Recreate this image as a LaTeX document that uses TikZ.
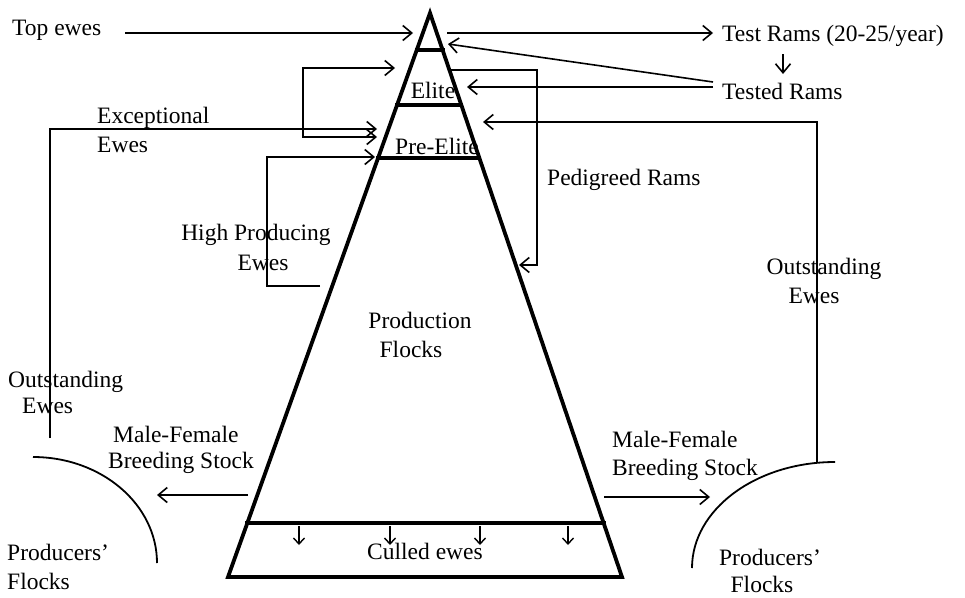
\documentclass[tikz,border=0pt]{standalone}
\usepackage{fontspec}
\setmainfont{Liberation Serif}
\usetikzlibrary{arrows.meta,calc}
\tikzset{
  lbl/.style={inner sep=0pt, anchor=base west, font=\fontsize{23.5}{28}\selectfont},
  lblc/.style={lbl, anchor=base},
  tip/.style={Straight Barb[length=9pt,width=15pt,line width=1.6pt]},
  link/.style={line width=1.6pt},
  flow/.style={link, -{Straight Barb[length=9pt,width=15pt,line width=1.6pt]}},
  twoflow/.style={link, {Straight Barb[length=9pt,width=15pt,line width=1.6pt]}-{Straight Barb[length=9pt,width=15pt,line width=1.6pt]}},
  cull/.style={line width=1.4pt, -{Straight Barb[length=6pt,width=11pt,line width=1.4pt]}},
  pyr/.style={line width=3.8pt},
}
\begin{document}
\begin{tikzpicture}[x=1pt,y=-1pt]
  \useasboundingbox (0,0) rectangle (965,597);
  % pyramid
  \coordinate (apex) at (430,13);
  \coordinate (bl) at (228,577);
  \coordinate (br) at (622,577);
  \draw[pyr] (bl) -- (apex) -- (br) -- cycle;
  \foreach \t/\n in {0.0656/a, 0.1631/b, 0.2571/c, 0.9043/d} {
    \coordinate (L\n) at ($(apex)!\t!(bl)$);
    \coordinate (R\n) at ($(apex)!\t!(br)$);
    \draw[line width=3.4pt] ([xshift=-2pt]L\n) -- ([xshift=2pt]R\n);
  }
  % labels inside
  \node[lblc] (elite) at (433,98) {Elite};
  \node[lblc] (preelite) at (437,154) {Pre-Elite};
  \node[lblc] (prod1) at (420,328) {Production};
  \node[lblc] (prod2) at (411,357) {Flocks};
  \node[lblc] (culled) at (425,559) {Culled ewes};
  \foreach \x in {299,390,480,568}
    \draw[cull] (\x,526) -- (\x,545);
  % labels outside
  \node[lbl] (topewes) at (12,35) {Top ewes};
  \node[lbl] (testrams) at (722,41) {Test Rams (20-25/year)};
  \node[lbl] (testedrams) at (722,99) {Tested Rams};
  \node[lbl] (exc1) at (97,123) {Exceptional};
  \node[lbl] (exc2) at (97,152) {Ewes};
  \node[lbl] (pedigreed) at (547,185) {Pedigreed Rams};
  \node[lblc] (high1) at (256,240) {High Producing};
  \node[lblc] (high2) at (263,270) {Ewes};
  \node[lblc] (outR1) at (824,274) {Outstanding};
  \node[lblc] (outR2) at (814,303) {Ewes};
  \node[lbl] (outL1) at (8,387) {Outstanding};
  \node[lbl] (outL2) at (22,413) {Ewes};
  \node[lbl] (mfL1) at (113,442) {Male-Female};
  \node[lbl] (mfL2) at (108,468) {Breeding Stock};
  \node[lbl] (mfR1) at (612,447) {Male-Female};
  \node[lbl] (mfR2) at (612,475) {Breeding Stock};
  \node[lbl] (prodL1) at (7,560) {Producers'};
  \node[lbl] (prodL2) at (7,589) {Flocks};
  \node[lblc] (prodR1) at (770,565) {Producers'};
  \node[lblc] (prodR2) at (762,592) {Flocks};
  % connector ends
  \coordinate (topS) at (125,33);
  \coordinate (topT) at (413,33);
  \coordinate (testS) at (447,33);
  \coordinate (testT) at (713,33);
  \coordinate (tested) at (713,82);
  \coordinate (tested2) at (713,87);
  \coordinate (apexR) at (448,44);
  \coordinate (eliteR) at (467,87);
  \coordinate (pedS) at (451,70);
  \coordinate (pedT) at (519,265);
  \coordinate (outRT) at (483,122);
  \coordinate (flockR) at (835,462);
  \coordinate (outLT) at (377,129);
  \coordinate (flockL) at (33,457);
  \coordinate (loopA) at (377,137);
  \coordinate (loopB) at (395,68);
  \coordinate (highS) at (320,286);
  \coordinate (highT) at (375,157);
  % arrows
  \draw[flow] (topS) -- (topT);
  \draw[flow] (testS) -- (testT);
  \draw[flow] (783,54) -- (783,74);
  \draw[flow] (tested) -- (apexR);
  \draw[flow] (tested2) -- (eliteR);
  \draw[flow] (pedS) -- (537,70) -- (537,265) -- (pedT);
  \draw[flow] (817,462) -- (817,122) -- (outRT);
  \draw[flow] (50,438) -- (50,129) -- (outLT);
  \draw[twoflow] (loopA) -- (303,137) -- (303,68) -- (loopB);
  \draw[flow] (highS) -- (267,286) -- (267,157) -- (highT);
  \draw[flow] (248,495) -- (157,495);
  \draw[flow] (604,497) -- (710,497);
  % producers' flocks
  \draw[line width=1.8pt] (flockL) arc[start angle=270, end angle=360, x radius=124, y radius=106];
  \draw[line width=1.8pt] (692,568) arc[start angle=180, end angle=270, x radius=143, y radius=106];
\end{tikzpicture}
\end{document}
